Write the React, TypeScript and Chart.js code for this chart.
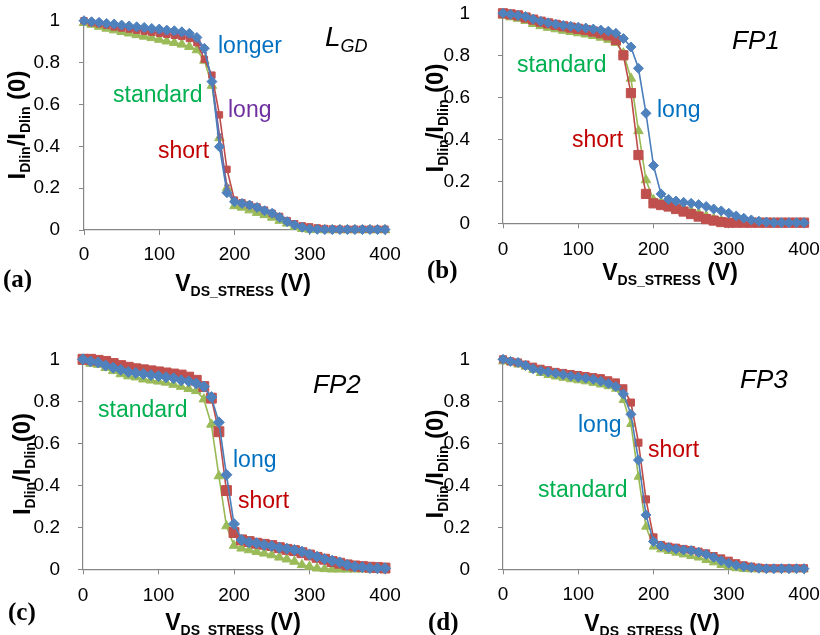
import React, { useEffect, useRef } from "react";
import { Chart, registerables } from "chart.js";

Chart.register(...registerables);

// ---------- data ----------
const X_VALUES = [
  0, 10, 20, 30, 40, 50, 60, 70, 80, 90, 100, 110, 120, 130, 140, 150, 160, 170, 180, 190, 200,
  210, 220, 230, 240, 250, 260, 270, 280, 290, 300, 310, 320, 330, 340, 350, 360, 370, 380, 390, 400,
];

// (a) L_GD
const A_LONGER = [
  1.0, 0.995, 0.992, 0.987, 0.984, 0.979, 0.975, 0.971, 0.968, 0.963,
  0.96, 0.955, 0.952, 0.947, 0.94, 0.92, 0.868, 0.709, 0.398, 0.178,
  0.135, 0.127, 0.119, 0.108, 0.092, 0.08, 0.06, 0.04, 0.024, 0.013,
  0.005, 0.003, 0.002, 0.002, 0.002, 0.002, 0.002, 0.002, 0.002, 0.002, 0.002,
];
const A_LONG = [
  1.0, 0.993, 0.988, 0.982, 0.977, 0.972, 0.967, 0.962, 0.958, 0.954,
  0.95, 0.946, 0.942, 0.937, 0.93, 0.91, 0.855, 0.72, 0.45, 0.205,
  0.14, 0.13, 0.121, 0.111, 0.096, 0.083, 0.064, 0.044, 0.028, 0.016,
  0.008, 0.005, 0.004, 0.003, 0.003, 0.003, 0.003, 0.003, 0.003, 0.003, 0.003,
];
const A_SHORT = [
  1.0, 0.99, 0.985, 0.978, 0.97, 0.965, 0.96, 0.955, 0.95, 0.945,
  0.94, 0.935, 0.93, 0.925, 0.915, 0.895, 0.815, 0.74, 0.55, 0.29,
  0.143, 0.13, 0.12, 0.11, 0.095, 0.08, 0.065, 0.045, 0.03, 0.02,
  0.015, 0.01, 0.007, 0.005, 0.004, 0.004, 0.004, 0.004, 0.004, 0.004, 0.004,
];
const A_STANDARD = [
  0.99, 0.982, 0.972, 0.963, 0.955, 0.947, 0.94, 0.932, 0.925, 0.918,
  0.91, 0.902, 0.895, 0.887, 0.876, 0.86, 0.81, 0.69, 0.44, 0.2,
  0.115, 0.108, 0.095, 0.083, 0.072, 0.06, 0.045, 0.032, 0.016, 0.006,
  0.002, 0.001, 0.0, 0.0, 0.0, 0.0, 0.0, 0.0, 0.0, 0.0, 0.0,
];

// (b) FP1
const B_LONG = [
  1.0, 0.995, 0.99, 0.985, 0.972, 0.962, 0.955, 0.948, 0.942, 0.938,
  0.934, 0.93, 0.925, 0.92, 0.915, 0.905, 0.88, 0.84, 0.738, 0.524,
  0.275, 0.14, 0.114, 0.106, 0.1, 0.095, 0.089, 0.08, 0.068, 0.059,
  0.048, 0.035, 0.024, 0.016, 0.01, 0.006, 0.003, 0.003, 0.003, 0.003, 0.003,
];
const B_SHORT = [
  1.0, 0.995, 0.99, 0.98, 0.97, 0.96, 0.952, 0.945, 0.938, 0.932,
  0.926, 0.92, 0.913, 0.905, 0.895, 0.873, 0.8, 0.62, 0.325, 0.14,
  0.095, 0.087, 0.08, 0.068, 0.056, 0.044, 0.032, 0.02, 0.013, 0.006,
  0.003, 0.003, 0.003, 0.003, 0.003, 0.003, 0.003, 0.003, 0.003, 0.003, 0.003,
];
const B_STANDARD = [
  0.99, 0.982, 0.975, 0.965, 0.95, 0.94, 0.932, 0.925, 0.918, 0.912,
  0.906, 0.9, 0.893, 0.885, 0.875, 0.86, 0.81, 0.69, 0.44, 0.206,
  0.111, 0.1, 0.092, 0.084, 0.071, 0.06, 0.048, 0.035, 0.022, 0.013,
  0.006, 0.003, 0.001, 0.0, 0.0, 0.0, 0.0, 0.0, 0.0, 0.0, 0.0,
];

// (c) FP2
const C_LONG = [
  1.0, 0.99, 0.985, 0.97, 0.96, 0.95, 0.94, 0.935, 0.93, 0.925,
  0.92, 0.915, 0.91, 0.9, 0.895, 0.885, 0.87, 0.82, 0.7, 0.45,
  0.216, 0.14, 0.129, 0.124, 0.116, 0.111, 0.103, 0.098, 0.092, 0.084,
  0.071, 0.06, 0.049, 0.041, 0.033, 0.021, 0.013, 0.01, 0.006, 0.005, 0.005,
];
const C_SHORT = [
  1.0, 1.0, 0.995, 0.99, 0.98, 0.97, 0.962, 0.955, 0.95, 0.945,
  0.94, 0.935, 0.93, 0.925, 0.915, 0.9, 0.87, 0.815, 0.655, 0.375,
  0.175, 0.14, 0.132, 0.124, 0.119, 0.113, 0.103, 0.095, 0.089, 0.079,
  0.068, 0.057, 0.048, 0.037, 0.029, 0.021, 0.016, 0.013, 0.01, 0.008, 0.006,
];
const C_STANDARD = [
  0.99, 0.98, 0.975, 0.96, 0.945, 0.93, 0.92, 0.915, 0.905, 0.9,
  0.895, 0.89, 0.88, 0.87, 0.86, 0.85, 0.81, 0.69, 0.444, 0.206,
  0.113, 0.1, 0.092, 0.084, 0.076, 0.068, 0.057, 0.048, 0.037, 0.021,
  0.013, 0.005, 0.002, 0.0, 0.0, 0.0, 0.0, 0.0, 0.0, 0.0, 0.0,
];

// (d) FP3
const D_LONG = [
  1.0, 0.99, 0.985, 0.97, 0.955, 0.945, 0.94, 0.933, 0.927, 0.92,
  0.915, 0.91, 0.905, 0.895, 0.885, 0.87, 0.835, 0.738, 0.52, 0.259,
  0.132, 0.111, 0.103, 0.097, 0.092, 0.089, 0.081, 0.071, 0.057, 0.041,
  0.029, 0.019, 0.013, 0.008, 0.005, 0.003, 0.003, 0.003, 0.003, 0.003, 0.003,
];
const D_SHORT = [
  1.0, 0.99, 0.985, 0.975, 0.965, 0.955, 0.948, 0.94, 0.935, 0.93,
  0.925, 0.92, 0.915, 0.91, 0.9, 0.89, 0.862, 0.794, 0.603, 0.333,
  0.152, 0.116, 0.108, 0.103, 0.097, 0.092, 0.084, 0.076, 0.063, 0.052,
  0.041, 0.029, 0.019, 0.013, 0.008, 0.005, 0.005, 0.005, 0.005, 0.005, 0.005,
];
const D_STANDARD = [
  0.99, 0.985, 0.975, 0.965, 0.95, 0.935, 0.925, 0.918, 0.912, 0.905,
  0.9, 0.895, 0.888, 0.88, 0.872, 0.86, 0.806, 0.692, 0.441, 0.203,
  0.108, 0.095, 0.087, 0.079, 0.071, 0.063, 0.056, 0.044, 0.033, 0.021,
  0.013, 0.005, 0.001, 0.0, 0.0, 0.0, 0.0, 0.0, 0.0, 0.0, 0.0,
];

const X_MIN = 0;
const X_MAX = 400;
const X_STEP = 100;
const Y_MIN = 0;
const Y_MAX = 1;
const Y_STEP = 0.2;

// ---------- styles ----------
const SANS = "'Liberation Sans', Arial, Helvetica, sans-serif";
const SERIF = "'Liberation Serif', 'Times New Roman', serif";
const AXIS_GRAY = "#868686";

const STYLE: Record<string, { line: string; fill: string; point: string }> = {
  blue: { line: "#4A7EBB", fill: "#4F81BD", point: "rectRot" },
  red: { line: "#BE4B48", fill: "#C0504D", point: "rect" },
  green: { line: "#98B954", fill: "#9BBB59", point: "triangle" },
  purple: { line: "#7D60A0", fill: "#8064A2", point: "crossRot" },
};

const TXT = {
  blue: "#0070C0",
  green: "#00B050",
  purple: "#7030A0",
  red: "#C00000",
};

type Run = { t: string; size: number; weight?: string; style?: string; dy?: number; family?: string };

type SeriesSpec = { name: string; values: number[]; color: string; radius: number };
type Note = { text: string; color: string; x: number; y: number };
type PanelSpec = {
  box: { left: number; top: number; width: number; height: number };
  area: { left: number; right: number; top: number; bottom: number };
  yTickPad: number;
  xTickPad: number;
  series: SeriesSpec[];
  notes: Note[];
  tag: { runs: Run[]; x: number; y: number };
  label: { text: string; x: number; y: number };
  yTitle: { x: number; y: number; space: boolean };
  xTitle: { x: number; y: number };
};

const TAG_SIZE = 26;

const PANELS: PanelSpec[] = [
  {
    box: { left: 0, top: 0, width: 410, height: 317 },
    area: { left: 84, right: 385, top: 20.7, bottom: 230 },
    yTickPad: 19,
    xTickPad: 8,
    series: [
      { name: "longer", values: A_LONGER, color: "blue", radius: 5 },
      { name: "long", values: A_LONG, color: "purple", radius: 3.5 },
      { name: "short", values: A_SHORT, color: "red", radius: 4.5 },
      { name: "standard", values: A_STANDARD, color: "green", radius: 5.5 },
    ],
    notes: [
      { text: "longer", color: TXT.blue, x: 218, y: 53 },
      { text: "standard", color: TXT.green, x: 113, y: 101.5 },
      { text: "long", color: TXT.purple, x: 228, y: 116.5 },
      { text: "short", color: TXT.red, x: 158, y: 158 },
    ],
    tag: {
      runs: [
        { t: "L", size: TAG_SIZE + 2, style: "italic" },
        { t: "GD", size: 18, style: "italic", dy: 6 },
      ],
      x: 325,
      y: 46,
    },
    label: { text: "(a)", x: 3, y: 287 },
    yTitle: { x: 25, y: 125, space: true },
    xTitle: { x: 243, y: 291 },
  },
  {
    box: { left: 410, top: 0, width: 410, height: 317 },
    area: { left: 503, right: 804, top: 13.3, bottom: 223.3 },
    yTickPad: 28,
    xTickPad: 10,
    series: [
      { name: "long", values: B_LONG, color: "blue", radius: 5 },
      { name: "short", values: B_SHORT, color: "red", radius: 6.5 },
      { name: "standard", values: B_STANDARD, color: "green", radius: 5.5 },
    ],
    notes: [
      { text: "standard", color: TXT.green, x: 517, y: 71.5 },
      { text: "long", color: TXT.blue, x: 657, y: 116.5 },
      { text: "short", color: TXT.red, x: 572, y: 146.5 },
    ],
    tag: { runs: [{ t: "FP1", size: TAG_SIZE, style: "italic" }], x: 732, y: 49 },
    label: { text: "(b)", x: 427, y: 277.5 },
    yTitle: { x: 443, y: 118, space: true },
    xTitle: { x: 670, y: 280 },
  },
  {
    box: { left: 0, top: 317, width: 410, height: 318 },
    area: { left: 83, right: 385, top: 359.3, bottom: 569.3 },
    yTickPad: 18,
    xTickPad: 10.5,
    series: [
      { name: "long", values: C_LONG, color: "blue", radius: 5.5 },
      { name: "short", values: C_SHORT, color: "red", radius: 7 },
      { name: "standard", values: C_STANDARD, color: "green", radius: 5.5 },
    ],
    notes: [
      { text: "standard", color: TXT.green, x: 98, y: 416.5 },
      { text: "long", color: TXT.blue, x: 233, y: 466.5 },
      { text: "short", color: TXT.red, x: 238, y: 508 },
    ],
    tag: { runs: [{ t: "FP2", size: TAG_SIZE, style: "italic" }], x: 313, y: 393 },
    label: { text: "(c)", x: 8, y: 619.5 },
    yTitle: { x: 30, y: 464, space: false },
    xTitle: { x: 233, y: 630 },
  },
  {
    box: { left: 410, top: 317, width: 410, height: 318 },
    area: { left: 503, right: 804, top: 359.3, bottom: 569.3 },
    yTickPad: 28,
    xTickPad: 9,
    series: [
      { name: "long", values: D_LONG, color: "blue", radius: 5 },
      { name: "short", values: D_SHORT, color: "red", radius: 5 },
      { name: "standard", values: D_STANDARD, color: "green", radius: 5 },
    ],
    notes: [
      { text: "long", color: TXT.blue, x: 578, y: 431.5 },
      { text: "short", color: TXT.red, x: 648, y: 456.5 },
      { text: "standard", color: TXT.green, x: 538, y: 496.5 },
    ],
    tag: { runs: [{ t: "FP3", size: TAG_SIZE, style: "italic" }], x: 740, y: 388 },
    label: { text: "(d)", x: 428, y: 629.5 },
    yTitle: { x: 443, y: 464, space: true },
    xTitle: { x: 652, y: 631 },
  },
];

// ---------- text helpers ----------
function fontOf(r: Run) {
  return `${r.style || "normal"} ${r.weight || "normal"} ${r.size}px ${r.family || SANS}`;
}

function drawRuns(ctx: CanvasRenderingContext2D, runs: Run[], x: number, y: number, align: "left" | "center") {
  const widths = runs.map((r) => {
    ctx.font = fontOf(r);
    return ctx.measureText(r.t).width;
  });
  const total = widths.reduce((a, b) => a + b, 0);
  let cx = align === "center" ? x - total / 2 : x;
  runs.forEach((r, i) => {
    ctx.font = fontOf(r);
    ctx.fillText(r.t, cx, y + (r.dy || 0));
    cx += widths[i];
  });
}

function yTitleRuns(space: boolean): Run[] {
  return [
    { t: "I", size: 24, weight: "bold" },
    { t: "Dlin", size: 14, weight: "bold", dy: 5 },
    { t: "/I", size: 24, weight: "bold" },
    { t: "Dlin", size: 14, weight: "bold", dy: 5 },
    { t: space ? " (0)" : "(0)", size: 24, weight: "bold" },
  ];
}

const X_TITLE_RUNS: Run[] = [
  { t: "V", size: 23, weight: "bold" },
  { t: "DS_STRESS", size: 14, weight: "bold", dy: 5 },
  { t: " (V)", size: 23, weight: "bold" },
];

function formatTick(v: number | string) {
  const n = Number(v);
  const r = Math.round(n);
  if (Math.abs(n - r) < 1e-9) return String(r);
  return String(Math.round(n * 10) / 10);
}

function makeTextPlugin(spec: PanelSpec) {
  return {
    id: "panelText",
    afterDraw(chart: any) {
      const ctx: CanvasRenderingContext2D = chart.ctx;
      const ox = spec.box.left;
      const oy = spec.box.top;
      ctx.save();
      ctx.textAlign = "left";
      ctx.textBaseline = "alphabetic";
      ctx.fillStyle = "#000";

      // y axis title (rotated)
      ctx.save();
      ctx.translate(spec.yTitle.x - ox, spec.yTitle.y - oy);
      ctx.rotate(-Math.PI / 2);
      drawRuns(ctx, yTitleRuns(spec.yTitle.space), 0, 0, "center");
      ctx.restore();

      // x axis title
      drawRuns(ctx, X_TITLE_RUNS, spec.xTitle.x - ox, spec.xTitle.y - oy, "center");

      // panel label
      drawRuns(
        ctx,
        [{ t: spec.label.text, size: 25, weight: "bold", family: SERIF }],
        spec.label.x - ox,
        spec.label.y - oy,
        "left"
      );

      // tag
      drawRuns(ctx, spec.tag.runs, spec.tag.x - ox, spec.tag.y - oy, "left");

      // series notes
      spec.notes.forEach((n) => {
        ctx.fillStyle = n.color;
        drawRuns(ctx, [{ t: n.text, size: 23 }], n.x - ox, n.y - oy, "left");
      });
      ctx.restore();
    },
  };
}

// ---------- panel component ----------
function Panel({ spec }: { spec: PanelSpec }) {
  const ref = useRef<HTMLCanvasElement | null>(null);

  useEffect(() => {
    const canvas = ref.current;
    if (!canvas) return;
    const { box, area } = spec;

    const datasets = spec.series.map((s) => {
      const st = STYLE[s.color];
      return {
        label: s.name,
        data: X_VALUES.map((x, i) => ({ x, y: s.values[i] })),
        borderColor: st.line,
        backgroundColor: st.fill,
        borderWidth: 1.6,
        pointStyle: st.point,
        pointRadius: s.radius,
        pointBackgroundColor: st.fill,
        pointBorderColor: st.fill,
        pointBorderWidth: s.color === "purple" ? 1.5 : 1,
        tension: 0,
        clip: false,
      };
    });

    const chart = new Chart(canvas, {
      type: "line",
      data: { datasets } as any,
      options: {
        responsive: false,
        animation: false,
        devicePixelRatio: 1,
        layout: {
          padding: {
            left: 0,
            top: area.top - box.top,
            right: box.left + box.width - area.right,
            bottom: 0,
          },
        },
        plugins: {
          legend: { display: false },
          tooltip: { enabled: false },
          title: { display: false },
        },
        scales: {
          x: {
            type: "linear",
            min: X_MIN,
            max: X_MAX,
            grid: {
              display: true,
              drawOnChartArea: false,
              drawTicks: true,
              tickLength: 5,
              color: AXIS_GRAY,
            },
            border: { display: true, color: AXIS_GRAY, width: 1.2 },
            ticks: {
              stepSize: X_STEP,
              autoSkip: false,
              maxRotation: 0,
              minRotation: 0,
              padding: spec.xTickPad,
              color: "#000",
              font: { family: SANS, size: 19 },
              callback: (v: any) => formatTick(v),
            },
            afterFit: (s: any) => {
              s.height = box.top + box.height - area.bottom;
              s.paddingLeft = 0;
              s.paddingRight = 0;
            },
          },
          y: {
            type: "linear",
            min: Y_MIN,
            max: Y_MAX,
            grid: {
              display: true,
              drawOnChartArea: false,
              drawTicks: true,
              tickLength: 5,
              color: AXIS_GRAY,
            },
            border: { display: true, color: AXIS_GRAY, width: 1.2 },
            ticks: {
              stepSize: Y_STEP,
              padding: spec.yTickPad,
              color: "#000",
              font: { family: SANS, size: 19 },
              callback: (v: any) => formatTick(v),
            },
            afterFit: (s: any) => {
              s.width = area.left - box.left;
              s.paddingTop = 0;
              s.paddingBottom = 0;
            },
          },
        },
      } as any,
      plugins: [makeTextPlugin(spec)],
    });

    return () => chart.destroy();
  }, [spec]);

  return (
    <canvas
      ref={ref}
      width={spec.box.width}
      height={spec.box.height}
      style={{
        position: "absolute",
        left: spec.box.left,
        top: spec.box.top,
        width: spec.box.width,
        height: spec.box.height,
      }}
    />
  );
}

export default function App() {
  return (
    <div
      style={{
        position: "fixed",
        left: 0,
        top: 0,
        width: 820,
        height: 635,
        background: "#ffffff",
        overflow: "hidden",
      }}
    >
      {PANELS.map((p, i) => (
        <Panel key={i} spec={p} />
      ))}
    </div>
  );
}
